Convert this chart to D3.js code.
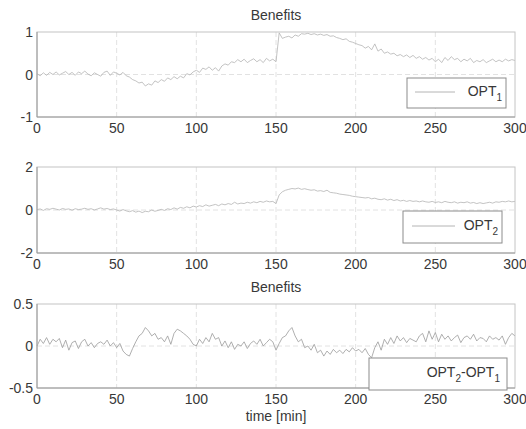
<!DOCTYPE html>
<html lang="en">
<head>
<meta charset="UTF-8">
<title>Benefits</title>
<script src="https://cdn.jsdelivr.net/npm/d3@7"></script>
<style>
  body { margin: 0; background: #fff; }
  text { font-family: "Liberation Sans", Arial, sans-serif; fill: #383838; }
</style>
</head>
<body>
<svg width="526" height="429"></svg>
<script>
// sampled every 2 minutes, t = 0..300
var timeStep = 2
var xTicks = [0, 50, 100, 150, 200, 250, 300]

var opt1 = [
  0.02,-0.03,0.04,-0.02,0.05,0.0,0.06,-0.01,0.03,0.07,0.0,0.05,-0.02,0.06,0.02,0.08,0.01,-0.03,0.04,0.0,-0.04,0.05,0.08,-0.02,0.06,
  0.03,-0.01,0.05,-0.03,-0.06,
  -0.12,-0.15,-0.2,-0.18,-0.27,
  -0.22,-0.25,-0.15,-0.19,-0.12,
  -0.16,-0.08,-0.12,-0.05,-0.1,
  -0.04,-0.08,0.02,-0.01,0.06,
  0.1,0.05,0.15,0.12,0.18,
  0.1,0.16,0.08,0.2,0.25,
  0.22,0.3,0.28,0.35,0.3,
  0.36,0.28,0.33,0.37,0.3,
  0.35,0.28,0.38,0.32,0.36,
  0.3,0.98,0.85,0.88,0.9,
  0.86,0.93,0.9,0.96,0.95,
  0.97,0.94,0.96,0.93,0.95,
  0.92,0.94,0.9,0.91,0.87,
  0.85,0.82,0.84,0.78,0.76,
  0.73,0.7,0.68,0.62,0.66,
  0.58,0.72,0.55,0.6,0.5,
  0.53,0.48,0.5,0.44,0.47,
  0.42,0.46,0.4,0.45,0.38,
  0.42,0.36,0.4,0.34,0.38,
  0.3,0.36,0.28,0.4,0.33,
  0.42,0.35,0.38,0.3,0.36,
  0.32,0.38,0.28,0.33,0.3,
  0.35,0.28,0.32,0.36,0.3,
  0.34,0.3,0.36,0.32,0.35,
  0.33
]

var opt2 = [
  0.02,0.05,-0.02,0.06,0.03,0.08,0.04,0.0,0.07,0.03,0.05,-0.01,0.06,0.02,0.04,0.08,0.03,0.06,0.0,0.05,0.1,0.04,0.07,0.02,0.05,
  0.0,-0.05,0.02,-0.04,-0.08,
  -0.03,-0.1,-0.05,-0.12,-0.06,
  -0.08,0.0,-0.06,-0.02,0.03,
  -0.02,0.06,0.02,0.1,0.04,
  0.12,0.08,0.15,0.1,0.18,
  0.14,0.2,0.16,0.24,0.18,
  0.22,0.26,0.2,0.28,0.24,
  0.3,0.26,0.36,0.28,0.32,
  0.3,0.36,0.32,0.38,0.34,
  0.4,0.36,0.42,0.38,0.4,
  0.3,0.7,0.85,0.92,0.96,
  1.0,0.98,1.02,0.96,0.99,
  0.95,0.92,0.94,0.88,0.9,
  0.86,0.92,0.82,0.8,0.78,
  0.74,0.72,0.7,0.68,0.64,
  0.62,0.6,0.58,0.56,0.58,
  0.52,0.55,0.5,0.48,0.52,
  0.46,0.5,0.44,0.48,0.42,
  0.45,0.4,0.44,0.4,0.42,
  0.38,0.42,0.38,0.36,0.4,
  0.35,0.38,0.34,0.4,0.36,
  0.34,0.38,0.32,0.36,0.34,
  0.38,0.32,0.35,0.3,0.34,
  0.3,0.33,0.36,0.32,0.38,
  0.36,0.4,0.38,0.42,0.38,
  0.4
]

var diff = [
  0.0,0.08,0.03,0.1,0.02,0.08,0.05,0.09,-0.02,0.07,-0.05,0.04,0.06,-0.03,0.05,0.08,0.0,0.04,-0.02,0.03,0.05,0.02,0.07,0.0,0.04,
  -0.02,0.03,-0.06,-0.1,-0.12,
  -0.03,0.05,0.12,0.15,0.22,
  0.18,0.12,0.15,0.08,0.1,
  0.05,0.12,0.02,0.15,0.2,
  0.18,0.15,0.12,0.08,0.02,
  0.0,0.08,0.03,0.1,0.05,
  0.15,0.08,0.1,0.0,0.06,
  -0.02,0.05,-0.04,0.02,0.0,
  0.05,-0.03,0.03,0.06,0.02,
  0.08,0.0,0.04,0.08,0.05,
  -0.05,0.03,0.1,0.12,0.18,
  0.22,0.12,0.05,0.08,-0.02,
  0.0,-0.05,0.02,-0.08,-0.05,
  -0.12,-0.06,-0.1,-0.04,-0.08,
  -0.05,-0.09,-0.04,-0.07,-0.02,
  -0.06,-0.04,-0.08,-0.03,-0.1,
  -0.14,-0.02,0.05,-0.05,0.08,
  0.02,0.1,0.03,0.12,0.06,
  0.1,0.04,0.09,0.07,0.05,
  0.12,0.15,0.05,0.18,0.08,
  0.16,0.05,0.14,0.08,0.12,
  0.06,0.1,0.13,0.04,0.1,
  0.12,0.08,0.14,0.06,0.1,
  0.09,0.05,0.12,0.08,0.1,
  0.07,0.12,0.02,0.1,0.15,
  0.12
]

var svg = d3.select("svg")
var left = 37, right = 515

var x = d3.scaleLinear().domain([0, 300]).range([left, right])

// one entry per subplot
var panels = [
  { data: opt1, top: 32, bottom: 117, yTicks: [-1, 0, 1], color: "#b4b4b4", title: "Benefits",
    legend: { x0: 407, y0: 78, x1: 506, y1: 108, line: [415, 455], textX: 502, main: "OPT", sub: "1" } },
  { data: opt2, top: 167, bottom: 253, yTicks: [-2, 0, 2], color: "#b4b4b4", title: null,
    legend: { x0: 403, y0: 211, x1: 502, y1: 243, line: [412, 455], textX: 498, main: "OPT", sub: "2" } },
  { data: diff, top: 304, bottom: 388, yTicks: [-0.5, 0, 0.5], color: "#9a9a9a", title: "Benefits",
    legend: { x0: 369, y0: 358, x1: 507, y1: 390, line: null, textX: 500, main: "OPT", sub: "2", main2: "-OPT", sub2: "1" } }
]

panels.forEach(function (p) {
  var y = d3.scaleLinear().domain([p.yTicks[0], p.yTicks[2]]).range([p.bottom, p.top])
  var g = svg.append("g")

  // grid
  g.selectAll(".vg").data(xTicks.slice(1, -1)).enter().append("line")
    .attr("x1", d => x(d)).attr("x2", d => x(d))
    .attr("y1", p.top).attr("y2", p.bottom)
    .attr("stroke", "#e2e2e2").attr("stroke-dasharray", "5,3")
  g.append("line")
    .attr("x1", left).attr("x2", right)
    .attr("y1", y(0)).attr("y2", y(0))
    .attr("stroke", "#e2e2e2").attr("stroke-dasharray", "5,3")

  // the series
  var line = d3.line()
    .x((d, i) => x(i * timeStep))
    .y(d => y(d))
  g.append("path").datum(p.data)
    .attr("d", line)
    .attr("fill", "none")
    .attr("stroke", p.color)
    .attr("stroke-width", 0.8)

  // box
  g.append("rect")
    .attr("x", left).attr("y", p.top)
    .attr("width", right - left).attr("height", p.bottom - p.top)
    .attr("fill", "none").attr("stroke", "#c4c4c4")
  g.append("line").attr("x1", left).attr("x2", right).attr("y1", p.bottom).attr("y2", p.bottom)
    .attr("stroke", "#9a9a9a")
  g.append("line").attr("x1", left).attr("x2", left).attr("y1", p.top).attr("y2", p.bottom)
    .attr("stroke", "#9a9a9a")

  // tick labels
  g.selectAll(".xt").data(xTicks).enter().append("text")
    .attr("x", d => x(d)).attr("y", p.bottom + 16)
    .attr("text-anchor", "middle").attr("font-size", 14)
    .text(d => d)
  g.selectAll(".yt").data(p.yTicks).enter().append("text")
    .attr("x", left - 4).attr("y", d => y(d) + 5)
    .attr("text-anchor", "end").attr("font-size", 14)
    .text(d => d)

  if (p.title) {
    g.append("text").attr("x", (left + right) / 2).attr("y", p.top - 12)
      .attr("text-anchor", "middle").attr("font-size", 14)
      .text(p.title)
  }

  // legend
  var L = p.legend
  g.append("rect").attr("x", L.x0).attr("y", L.y0)
    .attr("width", L.x1 - L.x0).attr("height", L.y1 - L.y0)
    .attr("fill", "#fff").attr("stroke", "#8c8c8c")
  if (L.line) {
    g.append("line").attr("x1", L.line[0]).attr("x2", L.line[1])
      .attr("y1", (L.y0 + L.y1) / 2 - 1).attr("y2", (L.y0 + L.y1) / 2 - 1)
      .attr("stroke", p.color)
  }
  var t = g.append("text").attr("x", L.textX).attr("y", (L.y0 + L.y1) / 2 + 3)
    .attr("text-anchor", "end").attr("font-size", 14)
  t.append("tspan").text(L.main)
  t.append("tspan").attr("font-size", 10).attr("dy", 5).text(L.sub)
  if (L.main2) {
    t.append("tspan").attr("dy", -5).text(L.main2)
    t.append("tspan").attr("font-size", 10).attr("dy", 5).text(L.sub2)
  }
})

svg.append("text").attr("x", (left + right) / 2).attr("y", 421)
  .attr("text-anchor", "middle").attr("font-size", 14)
  .text("time [min]")
</script>
</body>
</html>
